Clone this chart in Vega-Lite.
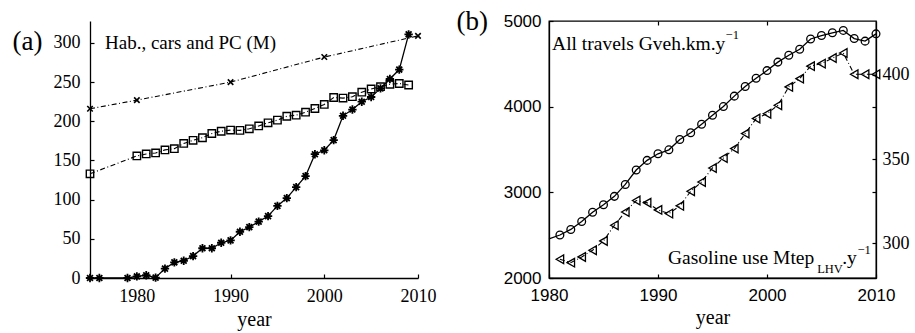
{
  "$schema": "https://vega.github.io/schema/vega-lite/v6.json",
  "padding": {"left": 12, "top": 6, "right": 2, "bottom": 2},
  "config": {
    "view": {"stroke": null},
    "axis": {"domainColor": "black", "tickColor": "black", "labelColor": "black", "titleColor": "black", "grid": false, "domainWidth": 1.3, "tickWidth": 1.2, "labelFlush": false},
    "concat": {"spacing": 19}
  },
  "datasets": {
    "pop": [
      {"year": 1975, "value": 216}, {"year": 1980, "value": 227}, {"year": 1990, "value": 250}, {"year": 2000, "value": 282}, {"year": 2010, "value": 309}
    ],
    "cars": [
      {"year": 1975, "value": 133}, {"year": 1980, "value": 155.8}, {"year": 1981, "value": 158.3}, {"year": 1982, "value": 159.6}, {"year": 1983, "value": 163.5}, {"year": 1984, "value": 165.1}, {"year": 1985, "value": 171.7}, {"year": 1986, "value": 175.7}, {"year": 1987, "value": 179.0}, {"year": 1988, "value": 184.4}, {"year": 1989, "value": 187.3}, {"year": 1990, "value": 188.8}, {"year": 1991, "value": 188.4}, {"year": 1992, "value": 190.4}, {"year": 1993, "value": 194.1}, {"year": 1994, "value": 198.0}, {"year": 1995, "value": 201.5}, {"year": 1996, "value": 206.4}, {"year": 1997, "value": 207.8}, {"year": 1998, "value": 211.6}, {"year": 1999, "value": 216.3}, {"year": 2000, "value": 221.5}, {"year": 2001, "value": 230.4}, {"year": 2002, "value": 229.6}, {"year": 2003, "value": 231.4}, {"year": 2004, "value": 237.2}, {"year": 2005, "value": 241.2}, {"year": 2006, "value": 244.2}, {"year": 2007, "value": 247.3}, {"year": 2008, "value": 248.2}, {"year": 2009, "value": 246.3}
    ],
    "pc": [
      {"year": 1975, "value": 0}, {"year": 1976, "value": 0}, {"year": 1979, "value": 0}, {"year": 1980, "value": 2}, {"year": 1981, "value": 3.5}, {"year": 1982, "value": 0.5}, {"year": 1983, "value": 12}, {"year": 1984, "value": 20}, {"year": 1985, "value": 22}, {"year": 1986, "value": 28}, {"year": 1987, "value": 38}, {"year": 1988, "value": 38}, {"year": 1989, "value": 45}, {"year": 1990, "value": 48}, {"year": 1991, "value": 59}, {"year": 1992, "value": 65}, {"year": 1993, "value": 72}, {"year": 1994, "value": 79}, {"year": 1995, "value": 92}, {"year": 1996, "value": 102}, {"year": 1997, "value": 116}, {"year": 1998, "value": 130}, {"year": 1999, "value": 158}, {"year": 2000, "value": 163}, {"year": 2001, "value": 176}, {"year": 2002, "value": 207}, {"year": 2003, "value": 215}, {"year": 2004, "value": 225}, {"year": 2005, "value": 231}, {"year": 2006, "value": 242}, {"year": 2007, "value": 254}, {"year": 2008, "value": 266}, {"year": 2009, "value": 311}
    ],
    "travel": [
      {"year": 1980, "value": 2457}, {"year": 1981, "value": 2502}, {"year": 1982, "value": 2567}, {"year": 1983, "value": 2660}, {"year": 1984, "value": 2768}, {"year": 1985, "value": 2855}, {"year": 1986, "value": 2953}, {"year": 1987, "value": 3092}, {"year": 1988, "value": 3260}, {"year": 1989, "value": 3373}, {"year": 1990, "value": 3450}, {"year": 1991, "value": 3496}, {"year": 1992, "value": 3616}, {"year": 1993, "value": 3695}, {"year": 1994, "value": 3795}, {"year": 1995, "value": 3899}, {"year": 1996, "value": 4001}, {"year": 1997, "value": 4123}, {"year": 1998, "value": 4236}, {"year": 1999, "value": 4331}, {"year": 2000, "value": 4421}, {"year": 2001, "value": 4520}, {"year": 2002, "value": 4600}, {"year": 2003, "value": 4670}, {"year": 2004, "value": 4790}, {"year": 2005, "value": 4830}, {"year": 2006, "value": 4862}, {"year": 2007, "value": 4890}, {"year": 2008, "value": 4795}, {"year": 2009, "value": 4765}, {"year": 2010, "value": 4850}
    ],
    "gasoline": [
      {"year": 1981, "value": 290.6}, {"year": 1982, "value": 288.6}, {"year": 1983, "value": 292}, {"year": 1984, "value": 296}, {"year": 1985, "value": 301.5}, {"year": 1986, "value": 310.8}, {"year": 1987, "value": 318.7}, {"year": 1988, "value": 325.5}, {"year": 1989, "value": 324.2}, {"year": 1990, "value": 319.9}, {"year": 1991, "value": 317.7}, {"year": 1992, "value": 322.3}, {"year": 1993, "value": 331}, {"year": 1994, "value": 336.5}, {"year": 1995, "value": 344.8}, {"year": 1996, "value": 350.7}, {"year": 1997, "value": 356.3}, {"year": 1998, "value": 365.2}, {"year": 1999, "value": 374.1}, {"year": 2000, "value": 377}, {"year": 2001, "value": 382}, {"year": 2002, "value": 392.9}, {"year": 2003, "value": 397.8}, {"year": 2004, "value": 405.2}, {"year": 2005, "value": 406.7}, {"year": 2006, "value": 410}, {"year": 2007, "value": 413}, {"year": 2008, "value": 400.4}, {"year": 2009, "value": 400.4}, {"year": 2010, "value": 400.4}
    ],
    "labelsA": [
      {"label": "Hab., cars and PC (M)", "year": 1976.6, "value": 300}
    ],
    "labelsB": [
      {"label": "All travels Gveh.km.y", "year": 1980.28, "value": 4665, "kind": "main"},
      {"label": "−1", "year": 1996.2, "value": 4790, "kind": "small"},
      {"label": "Gasoline use Mtep", "year": 1990.92, "value": 2160, "kind": "main"},
      {"label": "LHV", "year": 2004.6, "value": 2055, "kind": "small"},
      {"label": ".y", "year": 2006.9, "value": 2160, "kind": "main"},
      {"label": "−1", "year": 2008.3, "value": 2285, "kind": "small"}
    ]
  },
  "hconcat": [
    {
      "width": 328,
      "height": 257,
      "encoding": {
        "x": {"field": "year", "type": "quantitative", "scale": {"domain": [1975, 2010], "nice": false, "zero": false},
          "axis": {"values": [1980, 1990, 2000, 2010], "format": "d", "title": "year", "tickSize": -4, "labelFont": "Liberation Serif", "labelFontSize": 18, "labelPadding": 13, "titleFont": "Liberation Serif", "titleFontSize": 20, "titleFontWeight": "normal", "titlePadding": 4}},
        "y": {"field": "value", "type": "quantitative", "scale": {"domain": [0, 328], "nice": false},
          "axis": {"values": [0, 50, 100, 150, 200, 250, 300], "tickSize": -4, "labelFont": "Liberation Serif", "labelFontSize": 18, "labelPadding": 14, "title": "(a)", "titleAngle": 0, "titleFont": "Liberation Serif", "titleFontSize": 27, "titleFontWeight": "normal", "titleX": -78, "titleY": 20, "titleAlign": "left", "titleBaseline": "middle"}}
      },
      "layer": [
        {"data": {"name": "pop"}, "mark": {"type": "line", "color": "black", "strokeWidth": 1.1, "strokeDash": [5, 2.5, 1, 2.5]}},
        {"data": {"name": "pop"}, "mark": {"type": "point", "shape": "M-1,-1L1,1M-1,1L1,-1", "filled": false, "color": "black", "size": 30, "strokeWidth": 1.6, "opacity": 1}},
        {"data": {"name": "cars"}, "mark": {"type": "line", "color": "black", "strokeWidth": 1.1, "strokeDash": [5, 2.5, 1, 2.5]}},
        {"data": {"name": "cars"}, "mark": {"type": "point", "shape": "square", "filled": false, "color": "black", "size": 55, "strokeWidth": 1.4, "opacity": 1}},
        {"data": {"name": "pc"}, "mark": {"type": "line", "color": "black", "strokeWidth": 1.3}},
        {"data": {"name": "pc"}, "mark": {"type": "point", "shape": "M0,-1L0,1M-1,0L1,0M-0.7,-0.7L0.7,0.7M-0.7,0.7L0.7,-0.7", "filled": false, "color": "black", "size": 70, "strokeWidth": 1.8, "opacity": 1}},
        {"data": {"name": "labelsA"}, "mark": {"type": "text", "font": "Liberation Serif", "fontSize": 19, "align": "left", "baseline": "middle", "color": "black"},
          "encoding": {"text": {"field": "label"}}}
      ]
    },
    {
      "width": 327,
      "height": 257,
      "view": {"stroke": "black", "strokeWidth": 1.3},
      "layer": [
        {
          "encoding": {
            "x": {"field": "year", "type": "quantitative", "scale": {"domain": [1980, 2010], "nice": false, "zero": false},
              "axis": {"values": [1980, 1990, 2000, 2010], "format": "d", "title": "year", "tickSize": -4, "labelFont": "Liberation Sans", "labelFontSize": 17, "labelPadding": 13, "titleFont": "Liberation Serif", "titleFontSize": 20, "titleFontWeight": "normal", "titlePadding": 4}},
            "y": {"field": "value", "type": "quantitative", "scale": {"domain": [2000, 5000], "nice": false, "zero": false},
              "axis": {"values": [2000, 3000, 4000, 5000], "format": "d", "tickSize": -4, "labelFont": "Liberation Sans", "labelFontSize": 17, "labelPadding": 12, "title": "(b)", "titleAngle": 0, "titleFont": "Liberation Serif", "titleFontSize": 27, "titleFontWeight": "normal", "titleX": -93, "titleY": 0, "titleAlign": "left", "titleBaseline": "middle"}}
          },
          "layer": [
            {"data": {"name": "travel"}, "mark": {"type": "line", "color": "black", "strokeWidth": 1.3}},
            {"data": {"name": "travel"}, "transform": [{"filter": "datum.year > 1980"}], "mark": {"type": "point", "shape": "circle", "filled": false, "color": "black", "size": 60, "strokeWidth": 1.3, "opacity": 1}},
            {"data": {"name": "labelsB"}, "transform": [{"filter": "datum.kind == 'main'"}], "mark": {"type": "text", "font": "Liberation Serif", "fontSize": 19.5, "align": "left", "baseline": "alphabetic", "color": "black"},
              "encoding": {"text": {"field": "label"}}},
            {"data": {"name": "labelsB"}, "transform": [{"filter": "datum.kind == 'small'"}], "mark": {"type": "text", "font": "Liberation Serif", "fontSize": 12.5, "align": "left", "baseline": "alphabetic", "color": "black"},
              "encoding": {"text": {"field": "label"}}}
          ]
        },
        {
          "data": {"name": "gasoline"},
          "encoding": {
            "x": {"field": "year", "type": "quantitative", "scale": {"domain": [1980, 2010], "nice": false, "zero": false},
              "axis": {"orient": "top", "values": [1990, 2000], "labels": false, "title": null, "domain": false, "tickSize": -4}},
            "y": {"field": "value", "type": "quantitative", "scale": {"domain": [279.5, 432], "nice": false, "zero": false},
              "axis": {"orient": "right", "values": [300, 350, 400], "tickSize": -4, "labelFont": "Liberation Serif", "labelFontSize": 18, "labelPadding": 10, "title": null}}
          },
          "layer": [
            {"mark": {"type": "line", "color": "black", "strokeWidth": 1.1, "strokeDash": [5, 2.5, 1, 2.5]}},
            {"mark": {"type": "point", "shape": "triangle-left", "filled": false, "color": "black", "size": 75, "strokeWidth": 1.3, "opacity": 1}}
          ]
        },
        {
          "data": {"name": "travel"},
          "encoding": {
            "x": {"field": "year", "type": "quantitative", "scale": {"domain": [1980, 2010], "nice": false, "zero": false}, "axis": null},
            "y": {"field": "value", "type": "quantitative", "scale": {"domain": [2000, 5000], "nice": false, "zero": false},
              "axis": {"orient": "right", "values": [3000, 4000], "labels": false, "title": null, "domain": false, "tickSize": -4}}
          },
          "mark": {"type": "point", "opacity": 0}
        }
      ],
      "resolve": {"scale": {"y": "independent"}, "axis": {"x": "independent"}}
    }
  ]
}
